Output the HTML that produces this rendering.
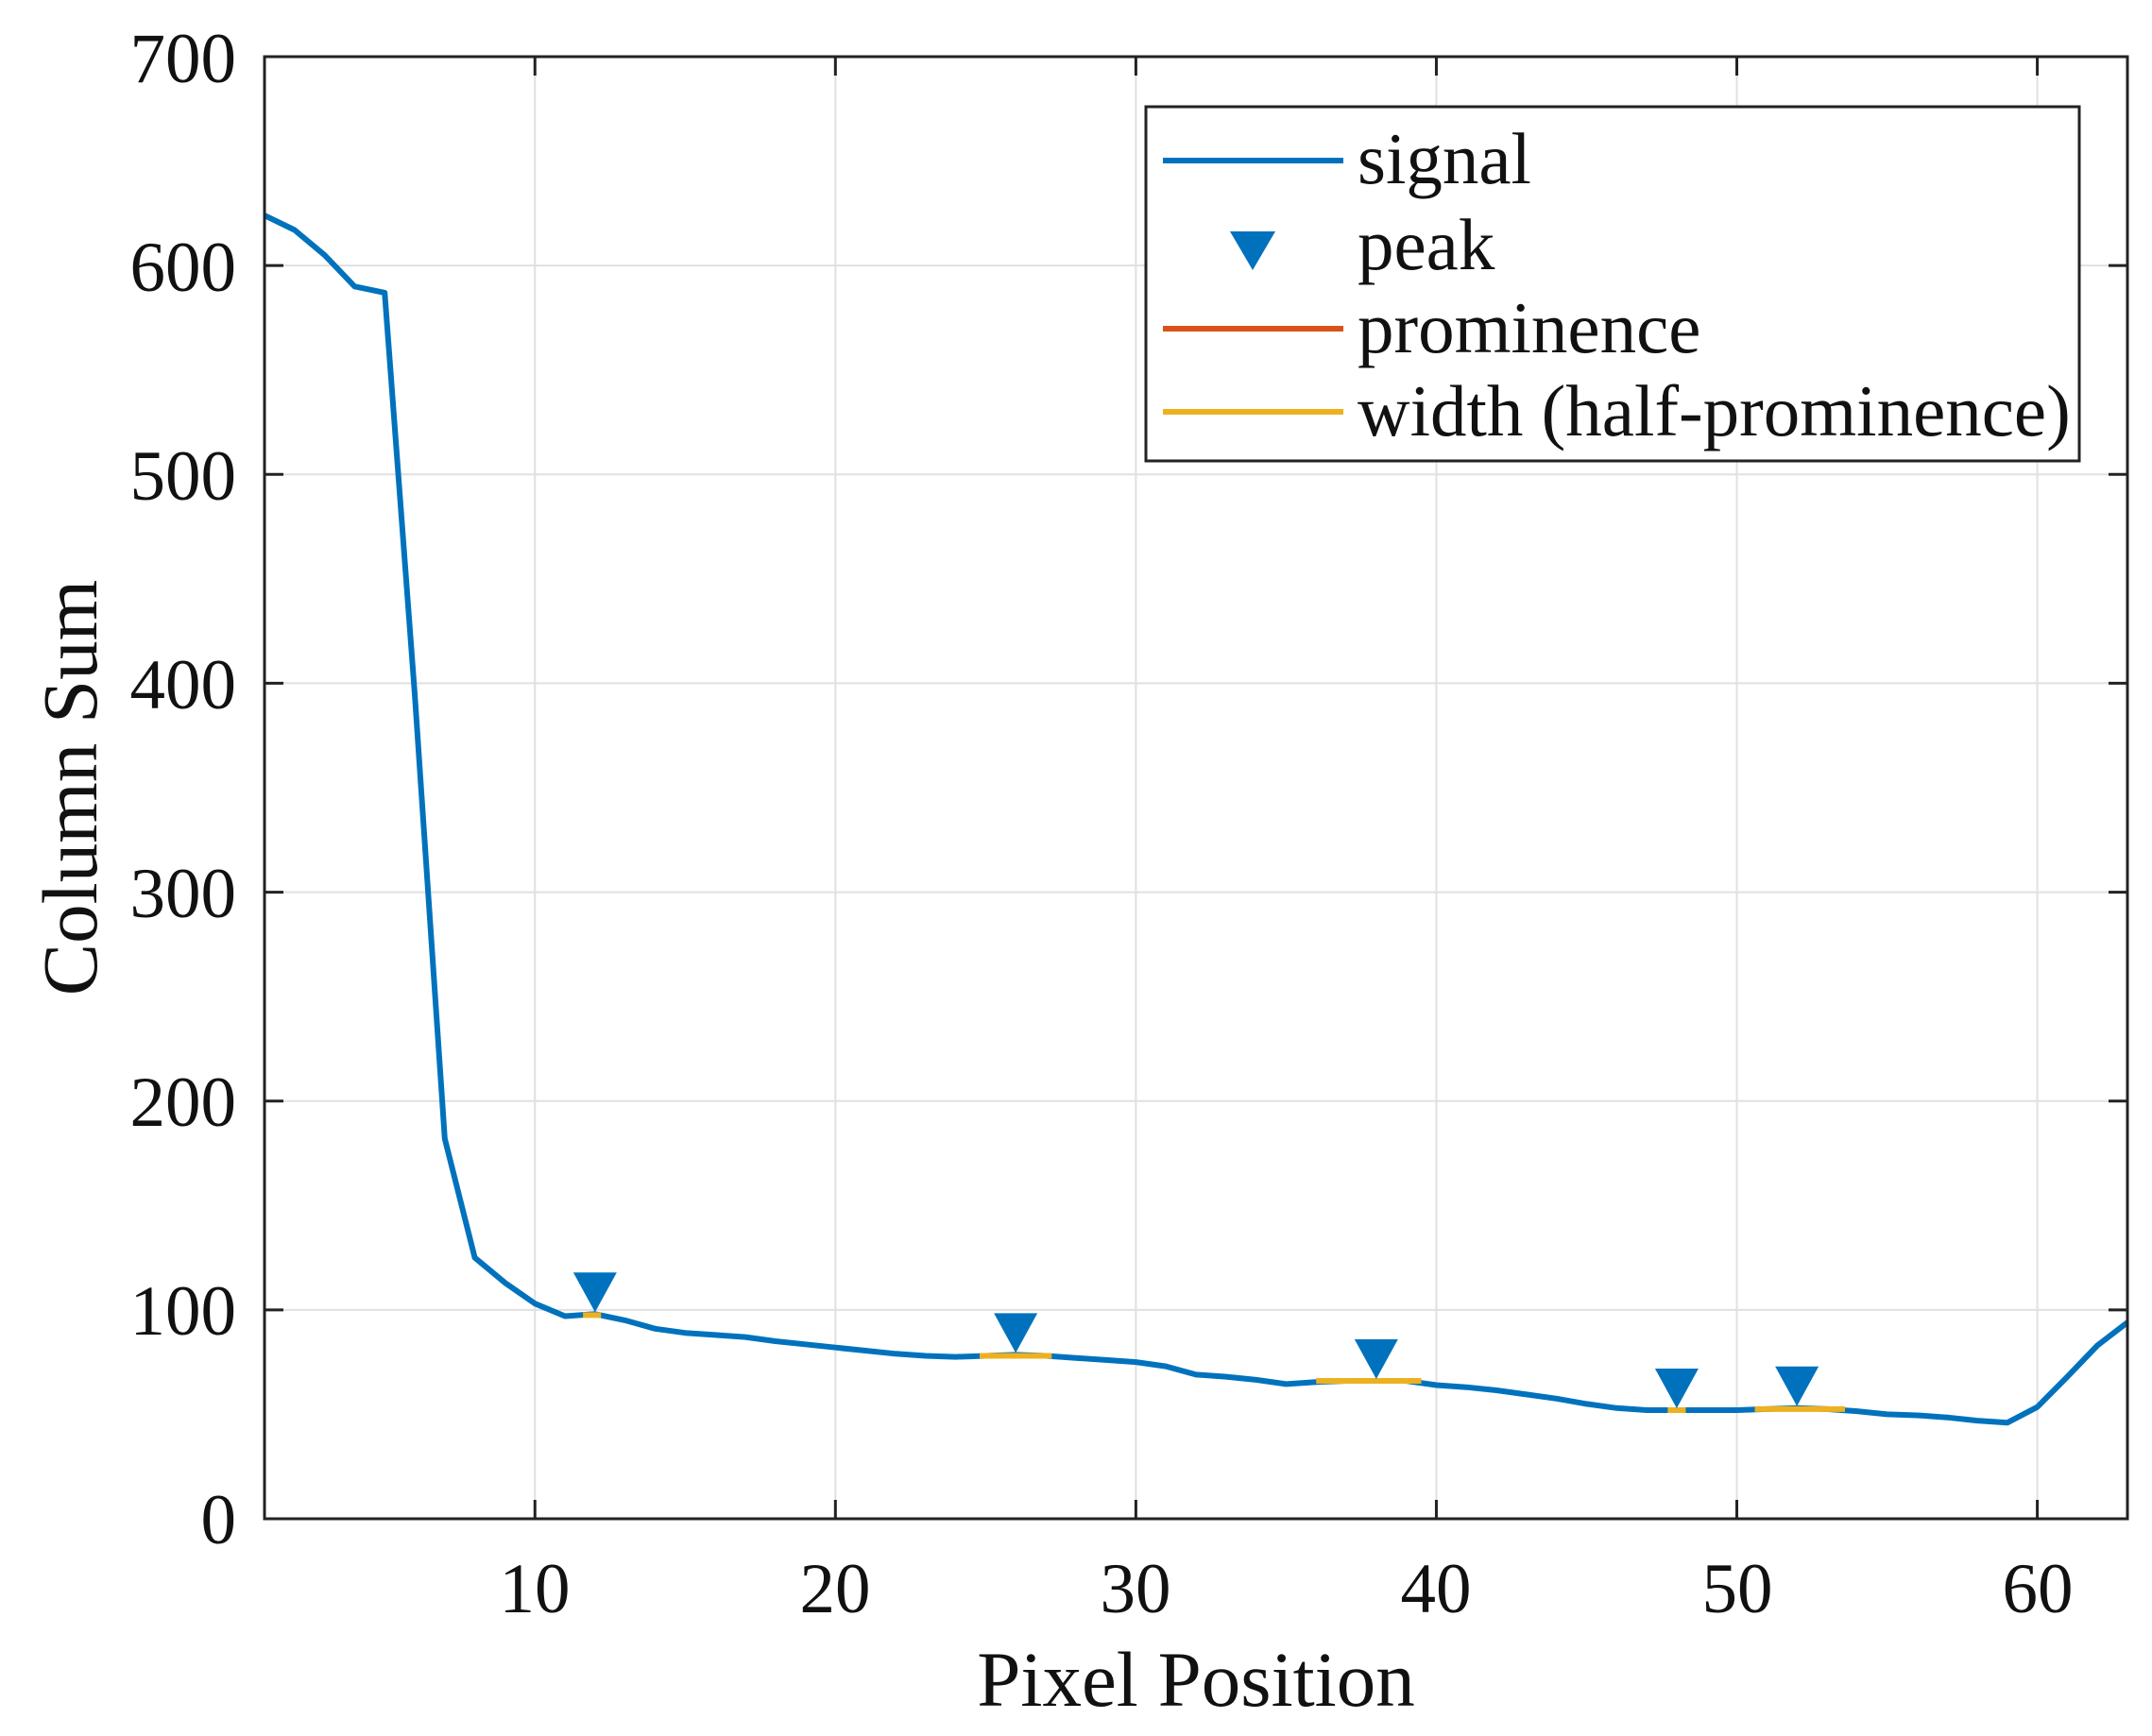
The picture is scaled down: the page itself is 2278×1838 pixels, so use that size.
<!DOCTYPE html>
<html><head><meta charset="utf-8"><style>
html,body{margin:0;padding:0;background:#fff}
svg{display:block}
text{font-family:"Liberation Serif","Times New Roman",serif;fill:#111}
</style></head><body>
<svg id="s" width="2278" height="1838" viewBox="0 0 2278 1838" xmlns="http://www.w3.org/2000/svg">
<rect width="2278" height="1838" fill="#fff"/>
<g id="grid" stroke="#e0e0e0" stroke-width="2"></g>
<g id="ticks" stroke="#222" stroke-width="3"></g>
<g font-size="75" text-anchor="end">
<text x="250" y="87">700</text>
<text x="250" y="308">600</text>
<text x="250" y="529">500</text>
<text x="250" y="750">400</text>
<text x="250" y="971">300</text>
<text x="250" y="1192">200</text>
<text x="250" y="1413">100</text>
<text x="250" y="1634">0</text>
</g>
<g font-size="75" text-anchor="middle">
<text x="566" y="1707">10</text>
<text x="884" y="1707">20</text>
<text x="1202" y="1707">30</text>
<text x="1520" y="1707">40</text>
<text x="1839" y="1707">50</text>
<text x="2157" y="1707">60</text>
</g>
<text x="1266" y="1806" font-size="83" text-anchor="middle">Pixel Position</text>
<text transform="translate(102,834) rotate(-90)" font-size="83" text-anchor="middle">Column Sum</text>
<polyline id="sig" fill="none" stroke="#0072BD" stroke-width="6" stroke-linejoin="round"/>
<g id="wid" stroke="#EDB120" stroke-width="6"></g>
<g id="pk" fill="#0072BD"></g>
<rect x="280" y="60" width="1972" height="1548" fill="none" stroke="#222" stroke-width="3"/>
<rect x="1213" y="113" width="988" height="375" fill="#fff" stroke="#222" stroke-width="3"/>
<line x1="1231" y1="170" x2="1422" y2="170" stroke="#0072BD" stroke-width="6"/>
<polygon points="1302,245 1350,245 1326,286" fill="#0072BD"/>
<line x1="1231" y1="348" x2="1422" y2="348" stroke="#D95319" stroke-width="6"/>
<line x1="1231" y1="436" x2="1422" y2="436" stroke="#EDB120" stroke-width="6"/>
<g font-size="77">
<text x="1437" y="194">signal</text>
<text x="1437" y="285">peak</text>
<text x="1437" y="373">prominence</text>
<text x="1437" y="461">width (half-prominence)</text>
</g>
</svg>
<script>
var L=280,R=2252,T=60,B=1608;
function X(v){return L+(v-1)*(R-L)/62}
function Y(v){return B-v*(B-T)/700}
var ns="http://www.w3.org/2000/svg";
function el(p,t,a){var e=document.createElementNS(ns,t);for(var k in a)e.setAttribute(k,a[k]);document.getElementById(p).appendChild(e);}
for(var i=10;i<=60;i+=10){el("grid","line",{x1:X(i),x2:X(i),y1:T,y2:B});el("ticks","line",{x1:X(i),x2:X(i),y1:B,y2:B-20});el("ticks","line",{x1:X(i),x2:X(i),y1:T,y2:T+20});}
for(var v=100;v<=600;v+=100){el("grid","line",{x1:L,x2:R,y1:Y(v),y2:Y(v)});}
for(var v=0;v<=700;v+=100){el("ticks","line",{x1:L,x2:L+20,y1:Y(v),y2:Y(v)});el("ticks","line",{x1:R,x2:R-20,y1:Y(v),y2:Y(v)});}
var d=[624,617,605,590,587,395,182,125,113,103,97,98,95,91,89,88,87,85,83.5,82,80.5,79,78,77.5,78,78.5,78,77,76,75,73,69,68,66.5,64.5,65.5,66,66,66,64,63,61.5,59.5,57.5,55,53,52,52,52,52,52.5,53,52.5,51.5,50,49.5,48.5,47,46,53.5,68,83,94];
var pts=d.map(function(v,i){return X(i+1).toFixed(1)+","+Y(v).toFixed(1)}).join(" ");
document.getElementById("sig").setAttribute("points",pts);
var w=[[11.6,12.2,97.5],[24.8,27.2,78],[36,39.5,66],[47.7,48.3,52],[50.6,53.6,52.5]];
w.forEach(function(a){el("wid","line",{x1:X(a[0]),x2:X(a[1]),y1:Y(a[2]),y2:Y(a[2])});});
[[12,98],[26,78.5],[38,66],[48,52],[52,53]].forEach(function(p){var x=X(p[0]),y=Y(p[1]);el("pk","polygon",{points:(x-23)+","+(y-44)+" "+(x+23)+","+(y-44)+" "+x+","+(y-2)});});
</script>
</body></html>
